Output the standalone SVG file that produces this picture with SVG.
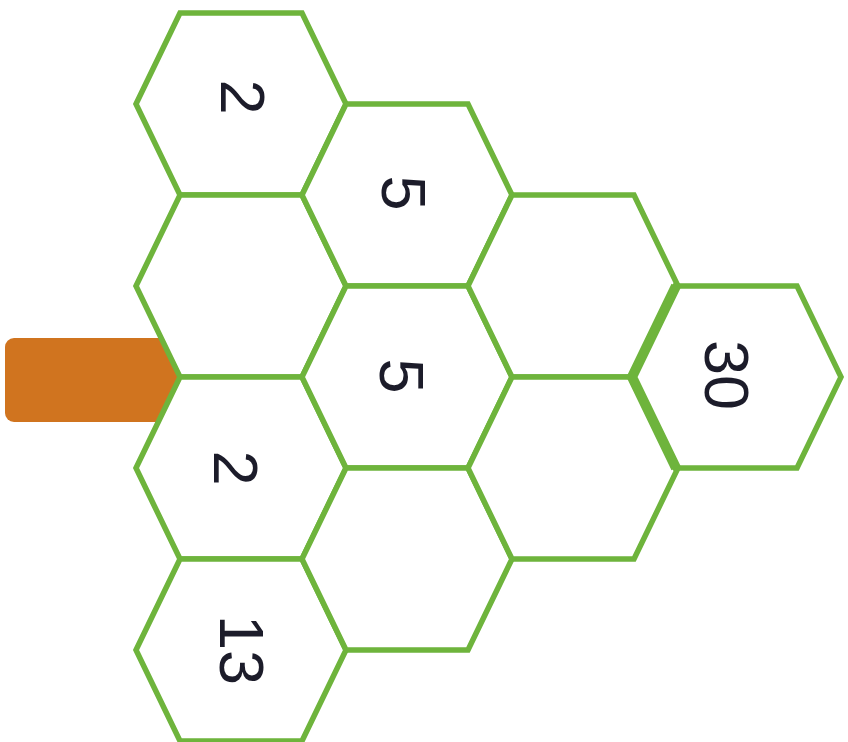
<svg xmlns="http://www.w3.org/2000/svg" xmlns:xlink="http://www.w3.org/1999/xlink" width="848" height="742" viewBox="0 0 848 742">
  <style>
    .cell { fill: #ffffff; stroke: #6eb43c; stroke-width: 5.5; stroke-linejoin: miter; }
    .seam { fill: none; stroke: #6eb43c; stroke-width: 10; stroke-linejoin: miter; }
    .num { font-family: "Liberation Sans", Arial, sans-serif; font-size: 63px; fill: #1c1c2a; text-anchor: middle; }
    .tab { fill: #d0741f; }
  </style>
  <defs>
    <!-- flat-topped hexagon centred on the origin -->
    <polygon id="hex" points="-105,0 -61,-91 61,-91 105,0 61,91 -61,91"/>
  </defs>

  <rect width="848" height="742" fill="#ffffff"/>

  <!-- orange tab tucked under the left edge of the comb -->
  <rect class="tab" x="5" y="338" width="190" height="84" rx="9" ry="9"/>

  <g id="connectors"/>

  <!-- column 1 -->
  <g id="c1r1"><use xlink:href="#hex" class="cell" x="241" y="104"/>
    <text class="num" transform="translate(244,97) rotate(90)" y="23">2</text></g>
  <g id="c1r2"><use xlink:href="#hex" class="cell" x="241" y="286"/></g>
  <g id="c1r3"><use xlink:href="#hex" class="cell" x="241" y="468"/>
    <text class="num" transform="translate(237,468) rotate(90)" y="23">2</text></g>
  <g id="c1r4"><use xlink:href="#hex" class="cell" x="241" y="650"/>
    <text class="num" transform="translate(243,650) rotate(90)" y="23">13</text></g>

  <!-- column 2 -->
  <g id="c2r1"><use xlink:href="#hex" class="cell" x="407" y="195"/>
    <text class="num" transform="translate(405,193) rotate(90)" y="23">5</text></g>
  <g id="c2r2"><use xlink:href="#hex" class="cell" x="407" y="377"/>
    <text class="num" transform="translate(403,376) rotate(90)" y="23">5</text></g>
  <g id="c2r3"><use xlink:href="#hex" class="cell" x="407" y="559"/></g>

  <!-- column 3 -->
  <g id="c3r1"><use xlink:href="#hex" class="cell" x="573" y="286"/></g>
  <g id="c3r2"><use xlink:href="#hex" class="cell" x="573" y="468"/></g>

  <!-- column 4: its left side doubles up with column 3, drawn as a heavier seam -->
  <g id="c4r1"><use xlink:href="#hex" class="cell" x="736" y="377"/>
    <polyline class="seam" points="676,286 632,377 676,468"/>
    <text class="num" transform="translate(728,375) rotate(90)" y="23">30</text></g>
</svg>
